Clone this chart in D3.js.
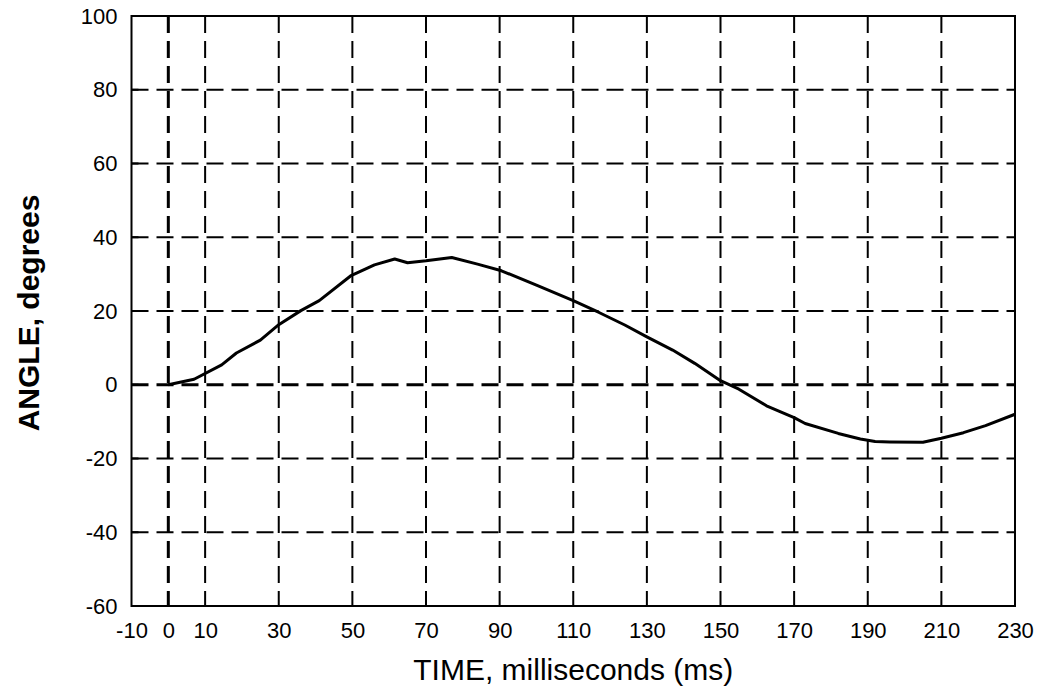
<!DOCTYPE html>
<html>
<head>
<meta charset="utf-8">
<script src="https://cdn.jsdelivr.net/npm/d3@7"></script>
<style>
  html, body { margin: 0; padding: 0; background: #fff; }
  svg text { font-family: "Liberation Sans", Arial, sans-serif; fill: #000; }
</style>
</head>
<body>
<svg id="chart" width="1043" height="691"></svg>
<script>
// ---- data ----
const timeMs = [0, 7, 14.5, 18.5, 25, 30, 36, 41, 49.5, 56, 61.5, 65, 70, 77, 84, 90.5, 100, 110, 117, 124, 130, 137, 143, 150, 155, 162.5, 170, 173, 182, 188, 192, 196, 205, 210, 216, 222, 230];
const angleDeg = [0, 1.5, 5.4, 8.6, 12.1, 16.3, 20.1, 22.8, 29.5, 32.5, 34.1, 33.1, 33.6, 34.5, 32.7, 30.9, 27.0, 22.8, 19.6, 16.2, 13.0, 9.4, 5.8, 1.1, -1.2, -5.7, -8.9, -10.5, -13.2, -14.7, -15.4, -15.5, -15.6, -14.5, -13.0, -11.1, -8.0];
const xTicks = [-10, 0, 10, 30, 50, 70, 90, 110, 130, 150, 170, 190, 210, 230];
const yTicks = [-60, -40, -20, 0, 20, 40, 60, 80, 100];
const xTitle = "TIME, milliseconds (ms)";
const yTitle = "ANGLE, degrees";

// ---- layout ----
const svg = d3.select("#chart");
const L = 131.5, R = 1015, T = 16, B = 606;
const x = d3.scaleLinear().domain([-10, 230]).range([L, R]);
const y = d3.scaleLinear().domain([-60, 100]).range([B, T]);

// grid lines
const g = svg.append("g");
g.selectAll("line.vg").data(xTicks.filter(d => d > -10 && d < 230)).join("line")
  .attr("x1", d => x(d)).attr("x2", d => x(d)).attr("y1", T).attr("y2", B)
  .attr("stroke", "#000")
  .attr("stroke-width", d => d === 0 ? 3 : 2)
  .attr("stroke-dasharray", "17,8");
g.selectAll("line.hg").data(yTicks.filter(d => d > -60 && d < 100)).join("line")
  .attr("x1", L).attr("x2", R).attr("y1", d => y(d)).attr("y2", d => y(d))
  .attr("stroke", "#000")
  .attr("stroke-width", d => d === 0 ? 3 : 2)
  .attr("stroke-dasharray", "17,8");

// data line
const line = d3.line().x((d, i) => x(timeMs[i])).y(d => y(d));
svg.append("path").datum(angleDeg)
  .attr("d", line)
  .attr("fill", "none").attr("stroke", "#000").attr("stroke-width", 3)
  .attr("stroke-linejoin", "round");

// frame
svg.append("rect").attr("x", L).attr("y", T).attr("width", R - L).attr("height", B - T)
  .attr("fill", "none").attr("stroke", "#000").attr("stroke-width", 2);

// axes
const fmt = d => String(d);
const xAxis = d3.axisBottom(x).tickValues(xTicks).tickSize(0).tickPadding(16).tickFormat(fmt);
const xg = svg.append("g").attr("transform", `translate(0,${B})`).call(xAxis);
xg.select(".domain").remove();
xg.selectAll("text").attr("font-size", 22).style("font-family", "Liberation Sans, Arial, sans-serif");

const yAxis = d3.axisLeft(y).tickValues(yTicks).tickSize(0).tickPadding(14).tickFormat(fmt);
const yg = svg.append("g").attr("transform", `translate(${L},0)`).call(yAxis);
yg.select(".domain").remove();
yg.selectAll("text").attr("font-size", 22).style("font-family", "Liberation Sans, Arial, sans-serif");

// inner y ticks
svg.append("g").selectAll("line").data(yTicks).join("line")
  .attr("x1", L).attr("x2", L + 7).attr("y1", d => y(d)).attr("y2", d => y(d))
  .attr("stroke", "#000").attr("stroke-width", 2);

// titles
svg.append("text").attr("x", (L + R) / 2).attr("y", 680).attr("text-anchor", "middle")
  .attr("font-size", 30).text(xTitle);
svg.append("text").attr("transform", `translate(39,${(T + B) / 2 + 2}) rotate(-90)`)
  .attr("text-anchor", "middle").attr("font-size", 30).attr("font-weight", "bold").text(yTitle);
</script>
</body>
</html>
